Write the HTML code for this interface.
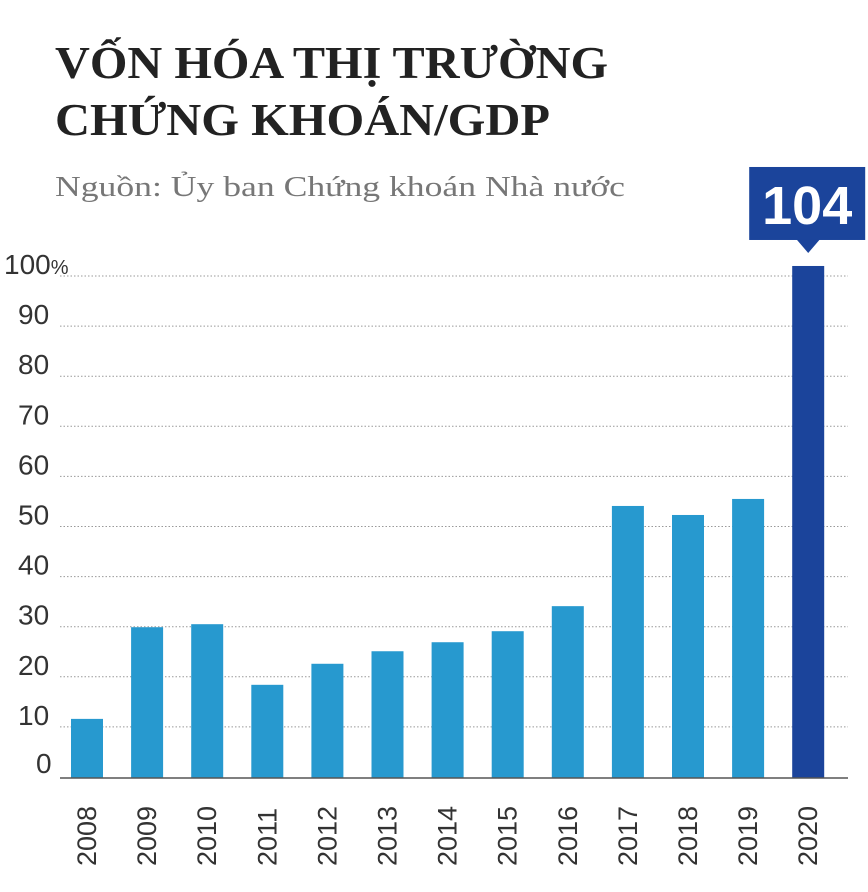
<!DOCTYPE html>
<html><head><meta charset="utf-8"><style>
body{margin:0;background:#fff;width:868px;height:892px;overflow:hidden}
svg{display:block}
</style></head><body>
<svg id="chart" width="868" height="892" xmlns="http://www.w3.org/2000/svg">
<text x="55" y="78" font-family="Liberation Serif, serif" font-weight="bold" font-size="46" fill="#222" textLength="553" lengthAdjust="spacingAndGlyphs">VỐN HÓA THỊ TRƯỜNG</text>
<text x="55" y="135" font-family="Liberation Serif, serif" font-weight="bold" font-size="46" fill="#222" textLength="495" lengthAdjust="spacingAndGlyphs">CHỨNG KHOÁN/GDP</text>
<text x="55" y="196" font-family="Liberation Serif, serif" font-size="29" fill="#777" textLength="570" lengthAdjust="spacingAndGlyphs">Nguồn: Ủy ban Chứng khoán Nhà nước</text>
<g id="grid"></g><g id="ylabels"></g><g id="bars"></g><g id="xlabels"></g>
<line x1="60" y1="778" x2="848" y2="778" stroke="#555" stroke-width="1.5"/>
<g id="callout"></g>
</svg>
<script>
const years=["2008","2009","2010","2011","2012","2013","2014","2015","2016","2017","2018","2019","2020"];
const values=[11.6,29.9,30.5,18.4,22.6,25.1,26.9,29.1,34.1,54.1,52.3,55.5,102];
const yTicks=[0,10,20,30,40,50,60,70,80,90,100];
const highlightLabel="104";
const NS="http://www.w3.org/2000/svg";
const y0=777,y100=276;
function yScale(v){return y0+(y100-y0)*v/100;}
function xScale(i){return 71+i*60.1;}
const bw=32;
function mk(t,a,p){const e=document.createElementNS(NS,t);for(const k in a)e.setAttribute(k,a[k]);p.appendChild(e);return e;}
const grid=document.getElementById('grid'),yl=document.getElementById('ylabels');
yTicks.forEach(t=>{
 const y=yScale(t);
 if(t>0){const l=mk('line',{x1:60,x2:848,y1:y,y2:y,stroke:'#999','stroke-width':1,'stroke-dasharray':'1.5,2'},grid);
 
 }
 const tx=mk('text',{x:t===100?4:(t===0?36:18),y:y+(t===0?-4:-2),'font-family':'Liberation Sans, sans-serif','font-size':28,fill:'#333'},yl);
 
 
 if(t===100){tx.textContent='100';const s=mk('tspan',{'font-size':20},tx);s.textContent='%';}
 else tx.textContent=String(t);
});
const bars=document.getElementById('bars'),xl=document.getElementById('xlabels');
years.forEach((yr,i)=>{
 const x=xScale(i),y=yScale(values[i]);
 const last=i===years.length-1;
 const r=mk('rect',{x:x,y:y,width:bw,height:y0-y+1,fill:last?'#1b449b':'#2799cf'},bars);
 
 
 const cx=x+bw/2+9;
 const t=mk('text',{x:cx,y:866,transform:'rotate(-90 '+cx+' 866)','font-family':'Liberation Sans, sans-serif','font-size':27,fill:'#333'},xl);
 
 
 t.textContent=yr;
});
const c=document.getElementById('callout');
const li=years.length-1,cx=xScale(li)+bw/2,cy=yScale(values[li]);
const box=mk('rect',{x:cx-59,y:cy-99,width:116,height:73,fill:'#1b449b'},c);


const tri=mk('polygon',{points:(cx-12)+','+(cy-27)+' '+(cx+12)+','+(cy-27)+' '+cx+','+(cy-13),fill:'#1b449b'},c);


const ct=mk('text',{x:cx-1,y:cy-42,'text-anchor':'middle','font-family':'Liberation Sans, sans-serif','font-weight':'bold','font-size':54,fill:'#fff'},c);


ct.textContent=highlightLabel;
</script>
</body></html>
